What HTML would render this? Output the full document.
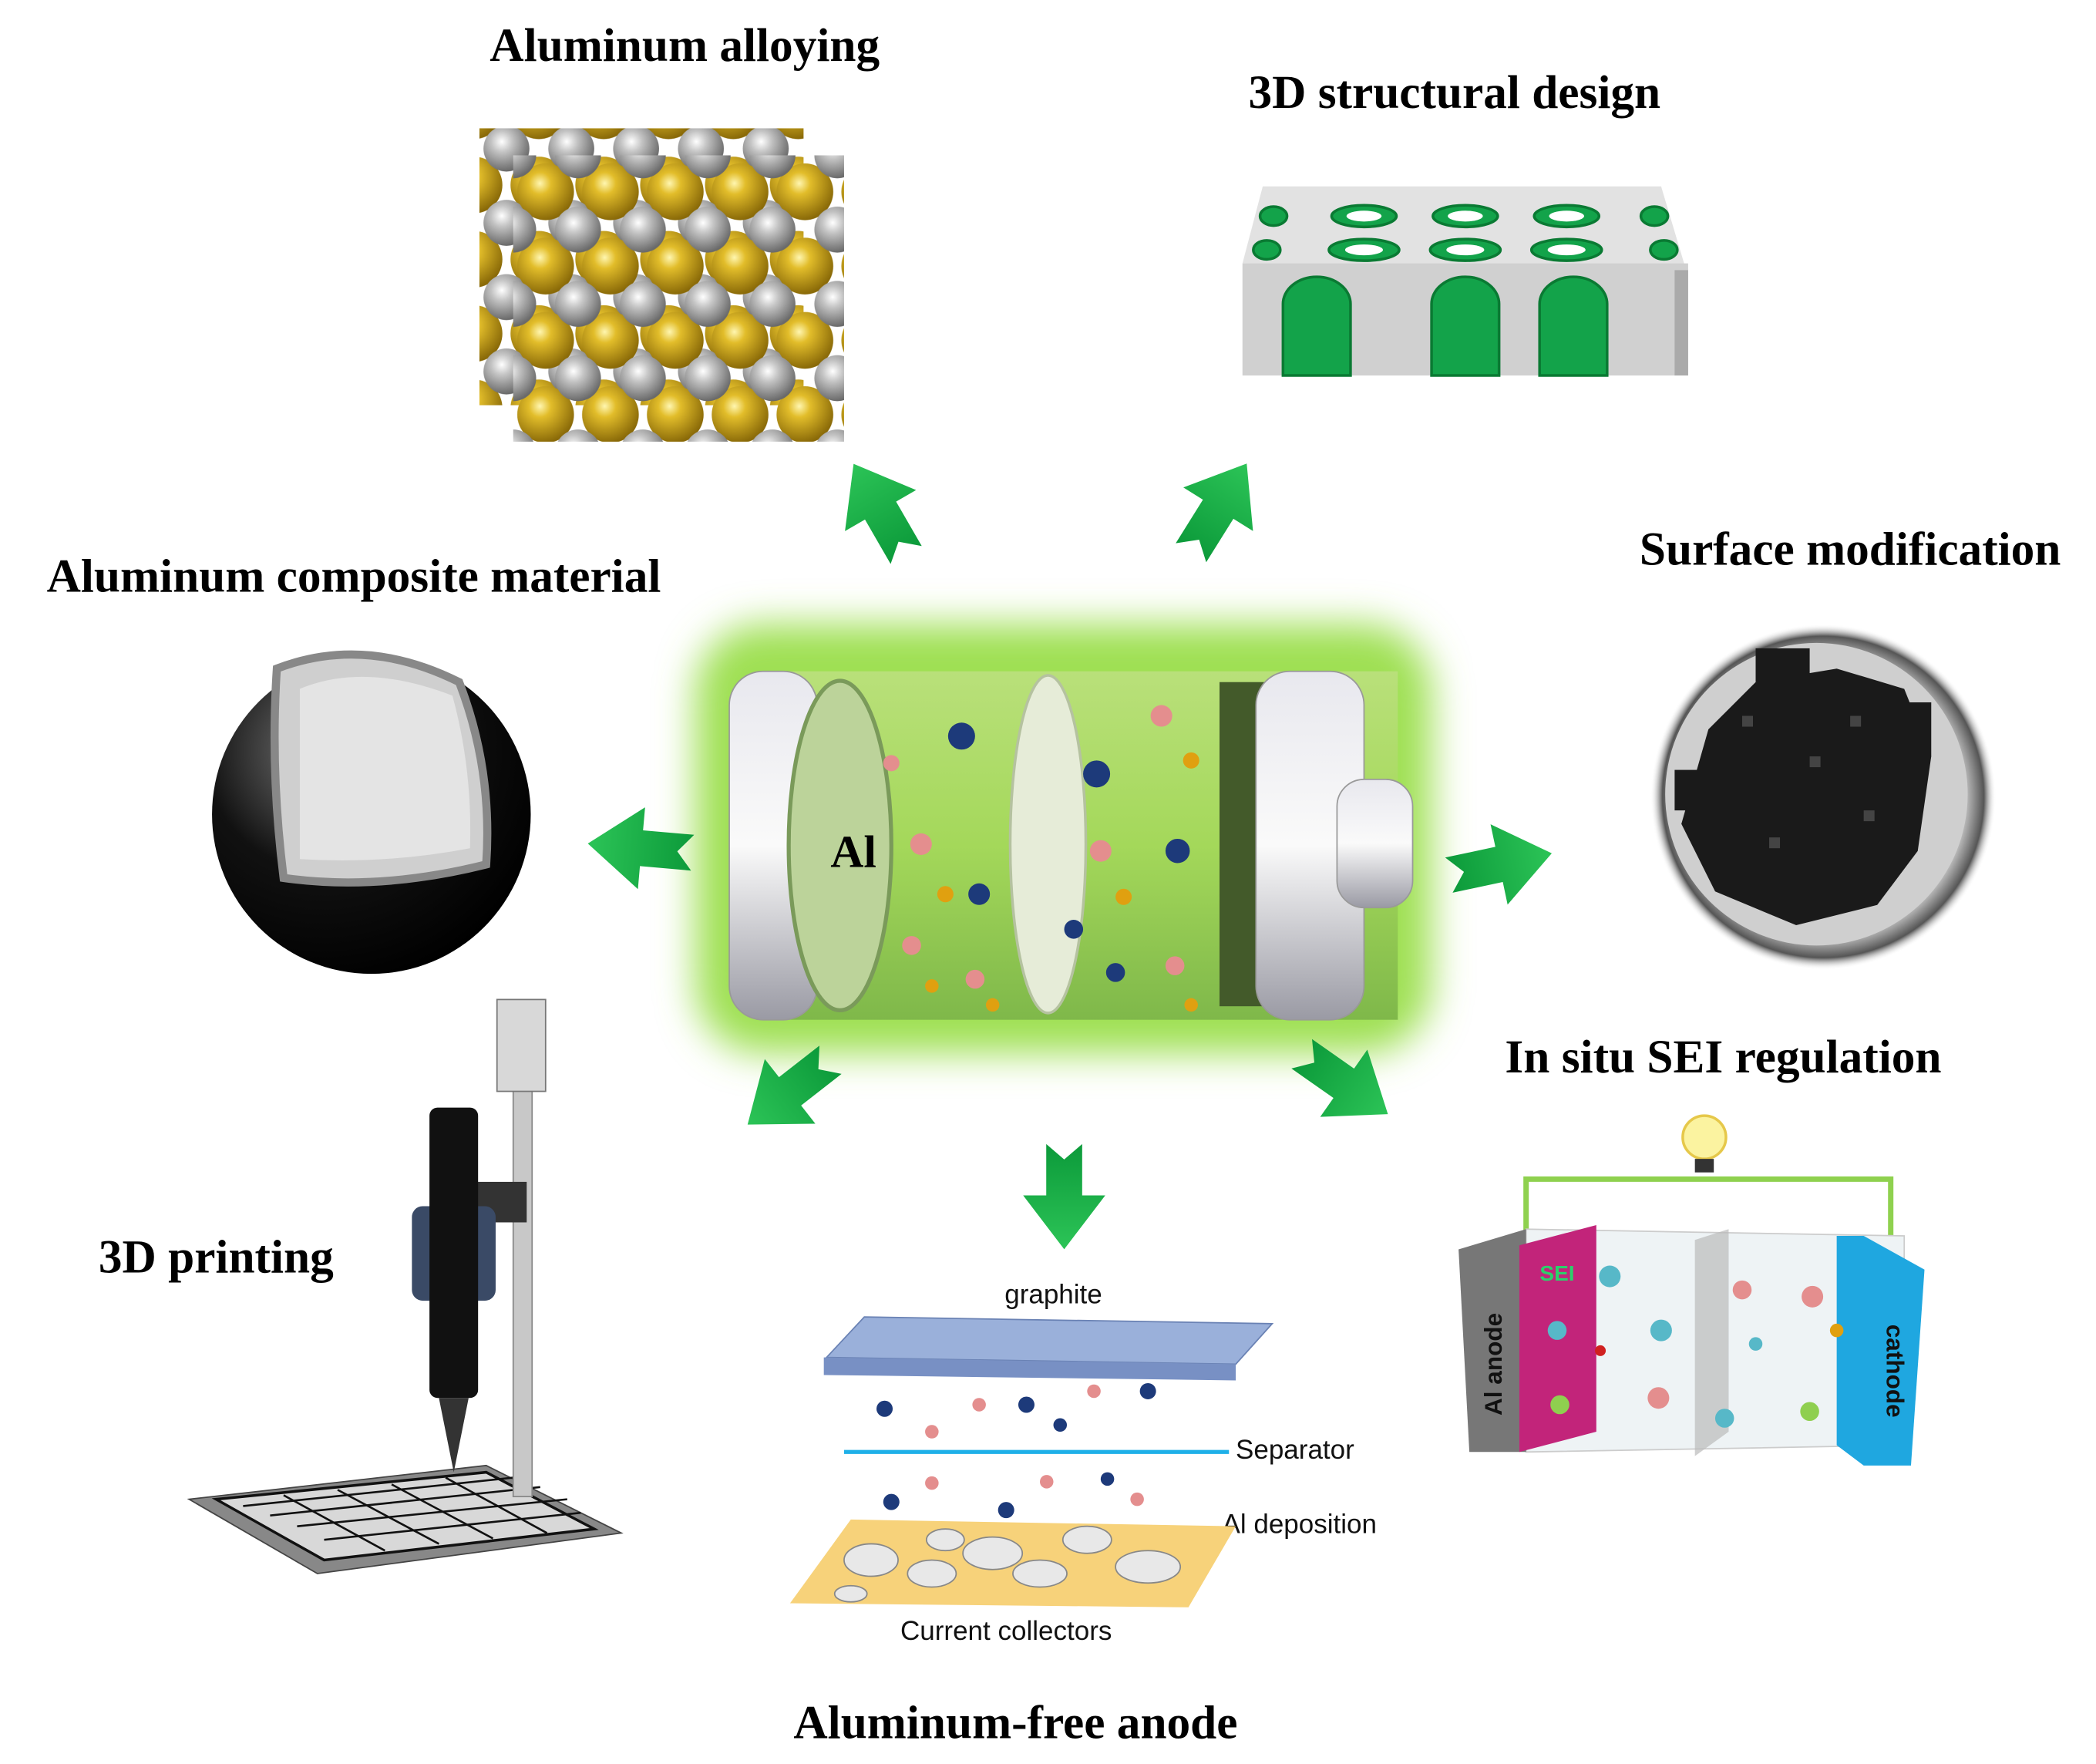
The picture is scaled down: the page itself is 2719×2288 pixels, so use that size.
<!DOCTYPE html>
<html><head><meta charset="utf-8"><style>html,body{margin:0;padding:0;background:#fff}svg{display:block}</style></head>
<body>
<svg width="2719" height="2288" viewBox="0 0 1552 1306" preserveAspectRatio="none" xmlns="http://www.w3.org/2000/svg">
<defs>
<radialGradient id="gold" cx="0.4" cy="0.35" r="0.65"><stop offset="0" stop-color="#fff6b0"/><stop offset="0.3" stop-color="#e2bd2a"/><stop offset="1" stop-color="#8a6a08"/></radialGradient>
<radialGradient id="grey" cx="0.4" cy="0.35" r="0.65"><stop offset="0" stop-color="#ffffff"/><stop offset="0.35" stop-color="#c4c4c4"/><stop offset="1" stop-color="#6a6a6a"/></radialGradient>
<pattern id="atoms" x="380" y="115" width="48" height="55" patternUnits="userSpaceOnUse">
<circle cx="24" cy="27" r="21" fill="url(#gold)"/>
<circle cx="0" cy="0" r="17" fill="url(#grey)"/><circle cx="48" cy="0" r="17" fill="url(#grey)"/>
<circle cx="0" cy="55" r="17" fill="url(#grey)"/><circle cx="48" cy="55" r="17" fill="url(#grey)"/>
</pattern>
<filter id="blur" x="-20%" y="-20%" width="140%" height="140%"><feGaussianBlur stdDeviation="14"/></filter>
<linearGradient id="body" x1="0" y1="0" x2="0" y2="1"><stop offset="0" stop-color="#b9e07a"/><stop offset="0.5" stop-color="#a4d85a"/><stop offset="1" stop-color="#7fb84a"/></linearGradient>
<linearGradient id="cap" x1="0" y1="0" x2="0" y2="1"><stop offset="0" stop-color="#e8e8ee"/><stop offset="0.5" stop-color="#fafafa"/><stop offset="1" stop-color="#9a9aa4"/></linearGradient>
<radialGradient id="ball" cx="0.35" cy="0.3" r="0.75"><stop offset="0" stop-color="#777"/><stop offset="0.5" stop-color="#111"/><stop offset="1" stop-color="#000"/></radialGradient>
<radialGradient id="dish" cx="0.5" cy="0.5" r="0.5"><stop offset="0.8" stop-color="#d8d8d8"/><stop offset="0.93" stop-color="#555"/><stop offset="1" stop-color="#fff" stop-opacity="0"/></radialGradient>
<linearGradient id="arr" x1="0" y1="0" x2="1" y2="0"><stop offset="0" stop-color="#0c9a3a"/><stop offset="1" stop-color="#2cc457"/></linearGradient>
<g id="arrow"><polygon points="-40,-14 0,-14 0,-32 42,0 0,32 0,14 -40,14 -28,0" fill="url(#arr)"/></g>
</defs>
<rect width="1552" height="1306" fill="#fff"/>

<g font-family="Liberation Serif, serif" font-weight="bold" font-size="35" fill="#000" text-anchor="middle">
<text x="507" y="45">Aluminum alloying</text>
<text x="1077" y="80">3D structural design</text>
<text x="1370" y="418">Surface modification</text>
<text x="262" y="438">Aluminum composite material</text>
<text x="1276" y="794">In situ SEI regulation</text>
<text x="160" y="942">3D printing</text>
<text x="752" y="1287">Aluminum-free anode</text>
</g>

<!-- alloy cube -->
<rect x="360" y="100" width="240" height="205" fill="url(#atoms)" transform="translate(-5,-5)"/>
<rect x="380" y="115" width="245" height="212" fill="url(#atoms)"/>

<!-- 3D block -->
<polygon points="935,138 1230,138 1250,205 920,195" fill="#e2e2e2"/>
<rect x="920" y="195" width="330" height="83" fill="#d0d0d0"/>
<rect x="1240" y="200" width="10" height="78" fill="#aaa"/>
<g fill="#13a34a" stroke="#0a7a33" stroke-width="2">
<ellipse cx="1010" cy="160" rx="24" ry="8"/><ellipse cx="1085" cy="160" rx="24" ry="8"/><ellipse cx="1160" cy="160" rx="24" ry="8"/>
<ellipse cx="1010" cy="185" rx="26" ry="8"/><ellipse cx="1085" cy="185" rx="26" ry="8"/><ellipse cx="1160" cy="185" rx="26" ry="8"/>
<ellipse cx="943" cy="160" rx="10" ry="7"/><ellipse cx="1225" cy="160" rx="10" ry="7"/>
<ellipse cx="938" cy="185" rx="10" ry="7"/><ellipse cx="1232" cy="185" rx="10" ry="7"/>
<path d="M950,278 V225 A25,20 0 0 1 1000,225 V278 Z"/><path d="M1060,278 V225 A25,20 0 0 1 1110,225 V278 Z"/><path d="M1140,278 V225 A25,20 0 0 1 1190,225 V278 Z"/>
</g>
<g fill="#fff"><ellipse cx="1010" cy="160" rx="13" ry="4"/><ellipse cx="1085" cy="160" rx="13" ry="4"/><ellipse cx="1160" cy="160" rx="13" ry="4"/><ellipse cx="1010" cy="185" rx="14" ry="4"/><ellipse cx="1085" cy="185" rx="14" ry="4"/><ellipse cx="1160" cy="185" rx="14" ry="4"/></g>

<!-- battery -->
<rect x="515" y="462" width="545" height="318" rx="50" fill="#9fe053" filter="url(#blur)"/>
<rect x="560" y="497" width="475" height="258" fill="url(#body)"/>
<rect x="540" y="497" width="65" height="258" rx="25" fill="url(#cap)" stroke="#999"/>
<ellipse cx="622" cy="626" rx="38" ry="122" fill="#bcd39a" stroke="#7a9a5a" stroke-width="3"/>
<text x="632" y="642" font-family="Liberation Serif, serif" font-weight="bold" font-size="34" text-anchor="middle">Al</text>
<ellipse cx="776" cy="625" rx="28" ry="125" fill="#e6ecd8" stroke="#b5c2a0" stroke-width="2"/>
<rect x="903" y="505" width="50" height="240" fill="#435a2a"/>
<rect x="930" y="497" width="80" height="258" rx="25" fill="url(#cap)" stroke="#999"/>
<rect x="990" y="577" width="56" height="95" rx="20" fill="url(#cap)" stroke="#999"/>
<g>
<circle cx="712" cy="545" r="10" fill="#1d3a7a"/><circle cx="812" cy="573" r="10" fill="#1d3a7a"/><circle cx="872" cy="630" r="9" fill="#1d3a7a"/><circle cx="725" cy="662" r="8" fill="#1d3a7a"/><circle cx="795" cy="688" r="7" fill="#1d3a7a"/><circle cx="826" cy="720" r="7" fill="#1d3a7a"/>
<circle cx="682" cy="625" r="8" fill="#e48e8e"/><circle cx="815" cy="630" r="8" fill="#e48e8e"/><circle cx="860" cy="530" r="8" fill="#e48e8e"/><circle cx="675" cy="700" r="7" fill="#e48e8e"/><circle cx="870" cy="715" r="7" fill="#e48e8e"/><circle cx="722" cy="725" r="7" fill="#e48e8e"/><circle cx="660" cy="565" r="6" fill="#e48e8e"/>
<circle cx="700" cy="662" r="6" fill="#e0a010"/><circle cx="832" cy="664" r="6" fill="#e0a010"/><circle cx="882" cy="563" r="6" fill="#e0a010"/><circle cx="690" cy="730" r="5" fill="#e0a010"/><circle cx="882" cy="744" r="5" fill="#e0a010"/><circle cx="735" cy="744" r="5" fill="#e0a010"/>
</g>

<!-- arrows -->
<use href="#arrow" transform="translate(652,378) rotate(-120) scale(0.95)"/>
<use href="#arrow" transform="translate(902,377) rotate(-58) scale(0.95)"/>
<use href="#arrow" transform="translate(475,628) rotate(185) scale(0.95)"/>
<use href="#arrow" transform="translate(1110,640) rotate(-12) scale(0.95)"/>
<use href="#arrow" transform="translate(585,808) rotate(142) scale(0.95)"/>
<use href="#arrow" transform="translate(788,885) rotate(90) scale(0.95)"/>
<use href="#arrow" transform="translate(995,802) rotate(35) scale(0.95)"/>

<!-- ball -->
<circle cx="275" cy="603" r="118" fill="url(#ball)"/>
<path d="M205,495 Q270,470 340,505 Q365,570 360,640 Q280,660 210,650 Q200,570 205,495 Z" fill="#cfcfcf" stroke="#888" stroke-width="6"/>
<path d="M222,510 Q270,490 335,515 Q350,570 348,628 Q285,640 222,636 Z" fill="#e4e4e4"/>

<!-- dish -->
<circle cx="1350" cy="590" r="128" fill="url(#dish)"/>
<circle cx="1345" cy="588" r="112" fill="#cfcfcf"/>
<g fill="#1a1a1a">
<path d="M1265,540 L1300,505 L1360,495 L1410,510 L1430,560 L1420,630 L1390,670 L1330,685 L1270,660 L1245,610 Z"/>
<rect x="1240" y="570" width="40" height="30"/><rect x="1400" y="520" width="30" height="40"/><rect x="1300" y="480" width="40" height="25"/>
</g>
<g fill="#444"><rect x="1290" y="530" width="8" height="8"/><rect x="1340" y="560" width="8" height="8"/><rect x="1380" y="600" width="8" height="8"/><rect x="1310" y="620" width="8" height="8"/><rect x="1370" y="530" width="8" height="8"/></g>

<!-- 3D printer -->
<polygon points="140,1110 360,1085 460,1135 235,1165" fill="#888" stroke="#444"/>
<polygon points="160,1110 360,1090 440,1132 240,1155" fill="#d8d8d8" stroke="#111" stroke-width="2"/>
<g stroke="#111" stroke-width="1.5"><line x1="180" y1="1115" x2="380" y2="1094"/><line x1="200" y1="1122" x2="400" y2="1101"/><line x1="220" y1="1130" x2="420" y2="1110"/><line x1="240" y1="1140" x2="430" y2="1120"/><line x1="210" y1="1107" x2="285" y2="1148"/><line x1="250" y1="1103" x2="325" y2="1143"/><line x1="290" y1="1099" x2="365" y2="1139"/><line x1="330" y1="1094" x2="405" y2="1135"/></g>
<rect x="380" y="790" width="14" height="318" fill="#c8c8c8" stroke="#888"/>
<rect x="368" y="740" width="36" height="68" fill="#d8d8d8" stroke="#777"/>
<rect x="340" y="875" width="50" height="30" fill="#333"/>
<rect x="305" y="893" width="62" height="70" rx="8" fill="#3a4a66"/>
<rect x="318" y="820" width="36" height="215" rx="6" fill="#111"/>
<polygon points="325,1035 347,1035 336,1090" fill="#333"/>

<!-- anode -->
<g font-family="Liberation Sans, sans-serif" font-size="20" fill="#111">
<text x="780" y="965" text-anchor="middle">graphite</text>
<text x="915" y="1080">Separator</text>
<text x="905" y="1135">Al deposition</text>
<text x="745" y="1214" text-anchor="middle">Current collectors</text>
</g>
<polygon points="612,1005 640,975 942,980 915,1010" fill="#9ab0da" stroke="#6a82b4"/>
<polygon points="610,1005 915,1010 915,1022 610,1018" fill="#7890c4"/>
<line x1="625" y1="1075" x2="910" y2="1075" stroke="#1fb0e8" stroke-width="3"/>
<polygon points="585,1187 630,1125 915,1130 880,1190" fill="#f7d27a"/>
<g fill="#e8e8e8" stroke="#888"><ellipse cx="645" cy="1155" rx="20" ry="12"/><ellipse cx="690" cy="1165" rx="18" ry="10"/><ellipse cx="735" cy="1150" rx="22" ry="12"/><ellipse cx="770" cy="1165" rx="20" ry="10"/><ellipse cx="805" cy="1140" rx="18" ry="10"/><ellipse cx="850" cy="1160" rx="24" ry="12"/><ellipse cx="630" cy="1180" rx="12" ry="6"/><ellipse cx="700" cy="1140" rx="14" ry="8"/></g>
<g><circle cx="655" cy="1043" r="6" fill="#1d3a7a"/><circle cx="760" cy="1040" r="6" fill="#1d3a7a"/><circle cx="850" cy="1030" r="6" fill="#1d3a7a"/><circle cx="785" cy="1055" r="5" fill="#1d3a7a"/><circle cx="660" cy="1112" r="6" fill="#1d3a7a"/><circle cx="745" cy="1118" r="6" fill="#1d3a7a"/><circle cx="820" cy="1095" r="5" fill="#1d3a7a"/><circle cx="690" cy="1060" r="5" fill="#e48e8e"/><circle cx="725" cy="1040" r="5" fill="#e48e8e"/><circle cx="810" cy="1030" r="5" fill="#e48e8e"/><circle cx="690" cy="1098" r="5" fill="#e48e8e"/><circle cx="775" cy="1097" r="5" fill="#e48e8e"/><circle cx="842" cy="1110" r="5" fill="#e48e8e"/></g>

<!-- SEI cell -->
<polyline points="1130,930 1130,873 1400,873 1400,925" fill="none" stroke="#8fd14f" stroke-width="4"/>
<circle cx="1262" cy="842" r="16" fill="#fbf3a0" stroke="#e6c84a" stroke-width="2"/>
<rect x="1255" y="858" width="14" height="10" fill="#333"/>
<polygon points="1130,910 1410,915 1410,1070 1130,1075" fill="#eef3f5" stroke="#ccc"/>
<polygon points="1080,925 1130,910 1130,1075 1088,1075" fill="#777"/>
<polygon points="1125,922 1182,907 1182,1060 1125,1075" fill="#c2247a"/>
<polygon points="1255,918 1280,910 1280,1060 1255,1078" fill="#bbb" opacity="0.7"/>
<polygon points="1360,915 1380,915 1425,940 1415,1085 1380,1085 1360,1070" fill="#1fa7e0"/>
<text x="1153" y="948" font-family="Liberation Sans, sans-serif" font-weight="bold" font-size="16" fill="#2bd06b" text-anchor="middle">SEI</text>
<text transform="translate(1112,1010) rotate(-90)" font-family="Liberation Sans, sans-serif" font-weight="bold" font-size="18" fill="#111" text-anchor="middle">Al anode</text>
<text transform="translate(1397,1015) rotate(90)" font-family="Liberation Sans, sans-serif" font-weight="bold" font-size="18" fill="#111" text-anchor="middle">cathode</text>
<g><circle cx="1192" cy="945" r="8" fill="#57b8c8"/><circle cx="1153" cy="985" r="7" fill="#57b8c8"/><circle cx="1230" cy="985" r="8" fill="#57b8c8"/><circle cx="1277" cy="1050" r="7" fill="#57b8c8"/><circle cx="1300" cy="995" r="5" fill="#57b8c8"/><circle cx="1342" cy="960" r="8" fill="#e48e8e"/><circle cx="1290" cy="955" r="7" fill="#e48e8e"/><circle cx="1228" cy="1035" r="8" fill="#e48e8e"/><circle cx="1340" cy="1045" r="7" fill="#8fcf4f"/><circle cx="1155" cy="1040" r="7" fill="#8fcf4f"/><circle cx="1360" cy="985" r="5" fill="#e0a010"/><circle cx="1185" cy="1000" r="4" fill="#d02020"/></g>
</svg>
</body></html>
